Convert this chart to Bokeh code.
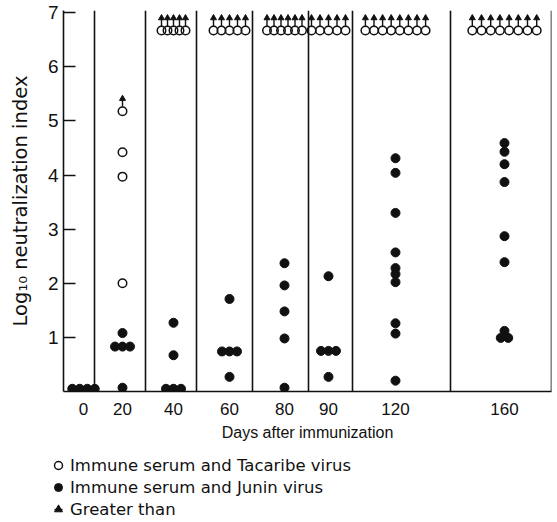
import numpy as np
from bokeh.plotting import figure
from bokeh.layouts import column, row
from bokeh.models import FixedTicker, Span, Legend, LegendItem, ColumnDataSource
from bokeh.embed import file_html
from bokeh.resources import INLINE

# ---------------- data ----------------
days = ["0", "20", "40", "60", "80", "90", "120", "160"]

# Log10 neutralization index, immune serum and Tacaribe virus (open circles)
tac_0 = []
tac_20 = [5.18, 4.42, 3.97, 2.0]
tac_40 = [6.67, 6.67, 6.67, 6.67, 6.67]
tac_60 = [6.67, 6.67, 6.67, 6.67, 6.67]
tac_80 = [6.67, 6.67, 6.67, 6.67, 6.67, 6.67]
tac_90 = [6.67, 6.67, 6.67, 6.67, 6.67]
tac_120 = [6.67, 6.67, 6.67, 6.67, 6.67, 6.67, 6.67, 6.67]
tac_160 = [6.67, 6.67, 6.67, 6.67, 6.67, 6.67, 6.67, 6.67]
# "greater than" flags for the Tacaribe values
tac_0_gt = []
tac_20_gt = [1, 0, 0, 0]
tac_40_gt = [1, 1, 1, 1, 1]
tac_60_gt = [1, 1, 1, 1, 1]
tac_80_gt = [1, 1, 1, 1, 1, 1]
tac_90_gt = [1, 1, 1, 1, 1]
tac_120_gt = [1, 1, 1, 1, 1, 1, 1, 1]
tac_160_gt = [1, 1, 1, 1, 1, 1, 1, 1]

# Log10 neutralization index, immune serum and Junin virus (filled circles)
jun_0 = [0.05, 0.05, 0.05, 0.05]
jun_20 = [1.08, 0.83, 0.83, 0.83, 0.07]
jun_40 = [1.27, 0.67, 0.05, 0.05, 0.05]
jun_60 = [1.71, 0.74, 0.74, 0.74, 0.27]
jun_80 = [2.37, 1.96, 1.48, 0.98, 0.07]
jun_90 = [2.13, 0.75, 0.75, 0.75, 0.27]
jun_120 = [4.31, 4.04, 3.30, 2.57, 2.28, 2.17, 2.02, 1.26, 1.07, 0.20]
jun_160 = [4.59, 4.43, 4.20, 3.87, 2.87, 2.39, 1.12, 0.99, 0.99]

y_ticks = [1, 2, 3, 4, 5, 6, 7]

legend_labels = ["Immune serum and Tacaribe virus",
                 "Immune serum and Junin virus",
                 "Greater than"]

tacaribe = [tac_0, tac_20, tac_40, tac_60, tac_80, tac_90, tac_120, tac_160]
tacaribe_gt = [tac_0_gt, tac_20_gt, tac_40_gt, tac_60_gt, tac_80_gt, tac_90_gt,
               tac_120_gt, tac_160_gt]
junin = [jun_0, jun_20, jun_40, jun_60, jun_80, jun_90, jun_120, jun_160]

# ---------------- layout (screen-like x units) ----------------
panel_edges = [0, 31, 82, 133, 189, 245, 289, 387, 488]
panel_centres = [20, 59, 110, 166, 221, 265, 332, 441]
open_step = [7, 7, 6, 8, 7, 8.5, 8.6, 9.2]
filled_step = 7.5

FONT = "Liberation Sans"
FONT2 = "DejaVu Sans"
INK = "#111111"

Y_MAX = 7.04
FRAME_W = panel_edges[-1] - panel_edges[0]
FRAME_H = 381
PX = FRAME_H / Y_MAX  # pixels per log unit


def spread(values, centre, step):
    """Place equal values side by side, centred on the panel's centre."""
    xs = [0.0] * len(values)
    groups = {}
    for i, v in enumerate(values):
        groups.setdefault(round(v, 3), []).append(i)
    for idx in groups.values():
        n = len(idx)
        for k, i in enumerate(idx):
            xs[i] = centre + (k - (n - 1) / 2) * step
    return xs


tx, ty, ax, ay = [], [], [], []
for vals, gts, c, st in zip(tacaribe, tacaribe_gt, panel_centres, open_step):
    xs = spread(vals, c, st)
    tx += xs
    ty += vals
    for x, v, g in zip(xs, vals, gts):
        if g:
            ax.append(x)
            ay.append(v)

jx, jy = [], []
for vals, c in zip(junin, panel_centres):
    jx += spread(vals, c, filled_step)
    jy += vals

ay = np.array(ay)
stem_src = ColumnDataSource(dict(x=ax, y=list(ay + 8.5 / PX)))
head_src = ColumnDataSource(dict(x=ax, y=list(ay + 12.5 / PX)))
tac_src = ColumnDataSource(dict(x=tx, y=ty))
jun_src = ColumnDataSource(dict(x=jx, y=jy))

OPEN = dict(marker="circle", size=8.5, fill_alpha=0, line_color=INK, line_width=1.5)
FILLED = dict(marker="circle", size=9, fill_color=INK, line_color=INK)
STEM = dict(marker="dash", size=8, angle=np.pi / 2, line_color=INK, line_width=1.4)
HEAD = dict(marker="triangle", size=6, fill_color=INK, line_color=INK)

# ---------------- main figure ----------------
p = figure(frame_width=FRAME_W, frame_height=FRAME_H,
           x_range=(panel_edges[0], panel_edges[-1]),
           y_range=(0, Y_MAX), output_backend="svg", toolbar_location=None,
           min_border_left=63, min_border_right=6, min_border_top=10,
           min_border_bottom=62)
p.outline_line_color = None
p.grid.grid_line_color = None

for e in panel_edges[1:]:
    p.add_layout(Span(location=e, dimension="height", line_color=INK, line_width=1.6))

p.scatter("x", "y", source=tac_src, **OPEN)
p.scatter("x", "y", source=jun_src, **FILLED)
p.scatter("x", "y", source=stem_src, **STEM)
p.scatter("x", "y", source=head_src, **HEAD)

p.xaxis.ticker = FixedTicker(ticks=panel_centres)
p.xaxis.major_label_overrides = {c: d for c, d in zip(panel_centres, days)}
p.xaxis.major_tick_in = 0
p.xaxis.major_tick_out = 0
p.xaxis.minor_tick_line_color = None
p.xaxis.axis_line_width = 1.6
p.xaxis.axis_line_color = INK
p.xaxis.major_label_standoff = 11
p.xaxis.major_label_text_font = FONT
p.xaxis.major_label_text_font_size = "17px"
p.xaxis.major_label_text_color = INK
p.xaxis.axis_label = "Days after immunization"
p.xaxis.axis_label_text_font = FONT
p.xaxis.axis_label_text_font_size = "16px"
p.xaxis.axis_label_text_font_style = "normal"
p.xaxis.axis_label_text_color = INK
p.xaxis.axis_label_standoff = 6

p.yaxis.ticker = FixedTicker(ticks=y_ticks)
p.yaxis.major_tick_in = 12
p.yaxis.major_tick_out = 0
p.yaxis.major_tick_line_width = 1.6
p.yaxis.major_tick_line_color = INK
p.yaxis.minor_tick_line_color = None
p.yaxis.axis_line_width = 1.6
p.yaxis.axis_line_color = INK
p.yaxis.major_label_standoff = 5
p.yaxis.major_label_text_font = FONT
p.yaxis.major_label_text_font_size = "19px"
p.yaxis.major_label_text_color = INK
p.yaxis.axis_label = "Log\u2081\u2080 neutralization index"
p.yaxis.axis_label_text_font = FONT2
p.yaxis.axis_label_text_font_size = "19.5px"
p.yaxis.axis_label_text_font_style = "normal"
p.yaxis.axis_label_text_color = INK
p.yaxis.axis_label_standoff = 13

# ---------------- legend strip ----------------
# the strip's ranges lie outside all data, so its renderers only feed the legend
lg = figure(width=FRAME_W + 57, height=69, x_range=(-2, -1), y_range=(-2, -1),
            output_backend="svg", toolbar_location=None,
            x_axis_location=None, y_axis_location=None,
            min_border=0, min_border_left=48)
lg.outline_line_color = None
lg.grid.grid_line_color = None

l_open = lg.scatter("x", "y", source=tac_src, **OPEN)
l_fill = lg.scatter("x", "y", source=jun_src, **FILLED)
l_stem = lg.scatter("x", "y", source=stem_src, **STEM)
l_head = lg.scatter("x", "y", source=head_src, **HEAD)

legend = Legend(items=[
    LegendItem(label=legend_labels[0], renderers=[l_open]),
    LegendItem(label=legend_labels[1], renderers=[l_fill]),
    LegendItem(label=legend_labels[2], renderers=[l_stem, l_head]),
], location=(0, 2), orientation="vertical")
legend.margin = 0
legend.padding = 0
legend.spacing = 0
legend.glyph_width = 20
legend.glyph_height = 22
legend.label_height = 22
legend.label_standoff = 2
legend.label_text_font = FONT2
legend.label_text_font_size = "16.5px"
legend.label_text_color = INK
legend.border_line_color = None
legend.background_fill_alpha = 0
lg.add_layout(legend)

layout = column(p, row(lg), spacing=0)
open("out.html", "w").write(file_html(layout, INLINE))
